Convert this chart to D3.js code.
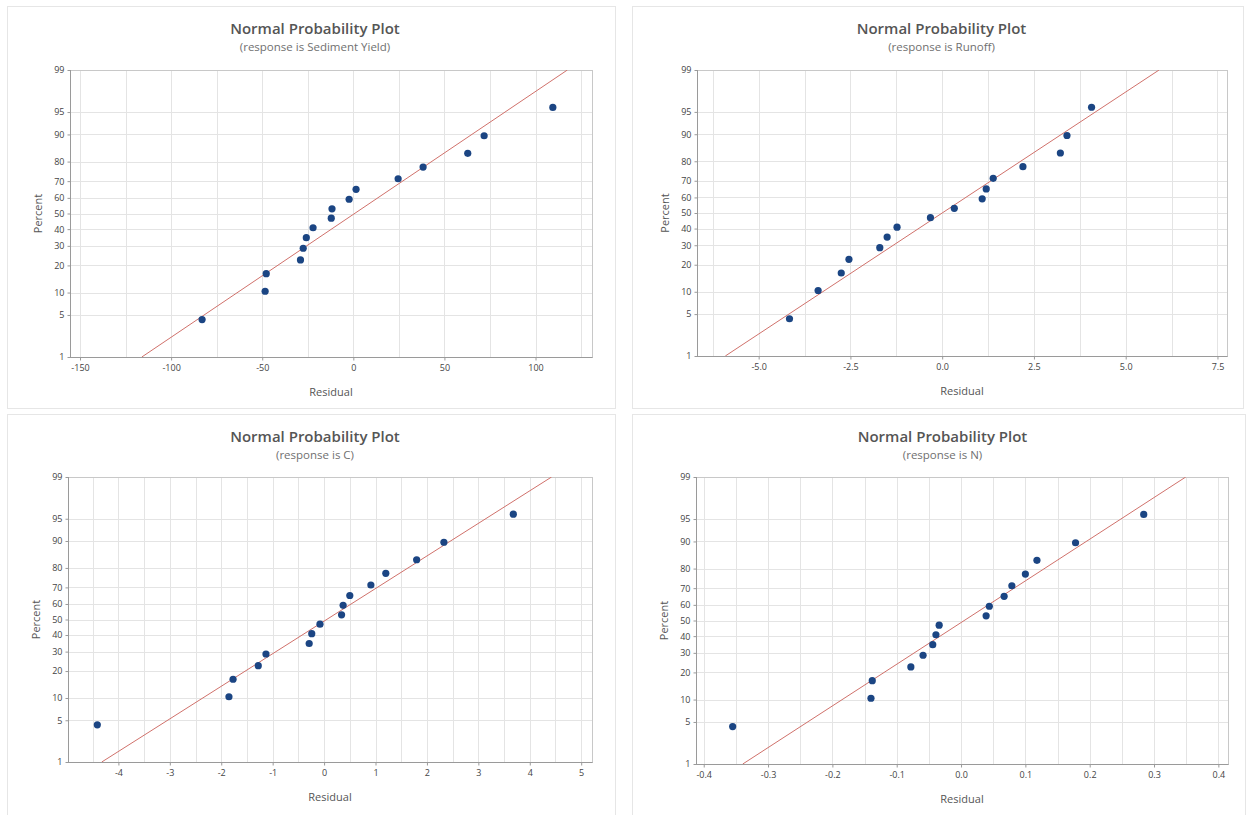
<!DOCTYPE html>
<html>
<head>
<meta charset="utf-8">
<script src="https://cdn.jsdelivr.net/npm/d3@7"></script>
<style>
  body { margin: 0; background: #fff; }
  text { font-family: "Open Sans", "Noto Sans", sans-serif; }
</style>
</head>
<body>
<script>
// --- data ---
const responses = ["Sediment Yield", "Runoff", "C", "N"];
const percentTicks = [1, 5, 10, 20, 30, 40, 50, 60, 70, 80, 90, 95, 99];
// median-rank plotting positions for 16 points, in percent
const percentRanks = [4.27, 10.37, 16.46, 22.56, 28.66, 34.76, 40.85, 46.95,
                      53.05, 59.15, 65.24, 71.34, 77.44, 83.54, 89.63, 95.73];

const sedimentResid = [-83, -48.4, -47.8, -29, -27.5, -25.8, -22.1, -12.1,
                       -11.7, -2.3, 1.5, 24.6, 38.3, 62.8, 71.8, 109.5];
const runoffResid = [-4.16, -3.38, -2.75, -2.54, -1.70, -1.50, -1.23, -0.32,
                     0.33, 1.09, 1.20, 1.39, 2.20, 3.22, 3.40, 4.07];
const cResid = [-4.41, -1.85, -1.77, -1.28, -1.13, -0.29, -0.24, -0.08,
                0.34, 0.37, 0.50, 0.91, 1.20, 1.80, 2.33, 3.68];
const nResid = [-0.355, -0.140, -0.138, -0.078, -0.059, -0.044, -0.039, -0.034,
                0.039, 0.044, 0.067, 0.079, 0.100, 0.118, 0.178, 0.284];

const xTicks = [
  [-150, -100, -50, 0, 50, 100],
  [-5, -2.5, 0, 2.5, 5, 7.5],
  [-4, -3, -2, -1, 0, 1, 2, 3, 4, 5],
  [-0.4, -0.3, -0.2, -0.1, 0, 0.1, 0.2, 0.3, 0.4]
];
const xDomains = [[-155.5, 131], [-6.68, 7.76], [-4.98, 5.21], [-0.412, 0.415]];
const xDecimals = [0, 1, 0, 1];
// fitted normal line: mean and st. dev. of the residuals
const fitMeans = [0.7, 0, 0.05, 0.005];
const fitSds = [50.2, 2.54, 1.88, 0.148];

const residuals = [sedimentResid, runoffResid, cResid, nResid];

// --- layout ---
const W = 1253, H = 815;
const cards = [
  {x: 7, y: 6, w: 608, h: 402},
  {x: 632, y: 6, w: 611, h: 402},
  {x: 7, y: 414, w: 608, h: 405},
  {x: 632, y: 414, w: 613, h: 405}
];
const plots = [
  {l: 70, r: 592, t: 70, b: 357},
  {l: 697, r: 1227, t: 70, b: 356},
  {l: 68, r: 592, t: 477, b: 762},
  {l: 696, r: 1228, t: 477, b: 764}
];

// inverse normal cdf (Acklam)
function probit(p) {
  const a = [-3.969683028665376e+01, 2.209460984245205e+02, -2.759285104469687e+02, 1.383577518672690e+02, -3.066479806614716e+01, 2.506628277459239e+00];
  const b = [-5.447609879822406e+01, 1.615858368580409e+02, -1.556989798598866e+02, 6.680131188771972e+01, -1.328068155288572e+01];
  const c = [-7.784894002430293e-03, -3.223964580411365e-01, -2.400758277161838e+00, -2.549732539343734e+00, 4.374664141464968e+00, 2.938163982698783e+00];
  const d = [7.784695709041462e-03, 3.224671290700398e-01, 2.445134137142996e+00, 3.754408661907416e+00];
  const pl = 0.02425;
  if (p < pl) {
    const q = Math.sqrt(-2 * Math.log(p));
    return (((((c[0]*q+c[1])*q+c[2])*q+c[3])*q+c[4])*q+c[5]) / ((((d[0]*q+d[1])*q+d[2])*q+d[3])*q+1);
  }
  if (p > 1 - pl) {
    const q = Math.sqrt(-2 * Math.log(1 - p));
    return -(((((c[0]*q+c[1])*q+c[2])*q+c[3])*q+c[4])*q+c[5]) / ((((d[0]*q+d[1])*q+d[2])*q+d[3])*q+1);
  }
  const q = p - 0.5, r = q * q;
  return (((((a[0]*r+a[1])*r+a[2])*r+a[3])*r+a[4])*r+a[5])*q / (((((b[0]*r+b[1])*r+b[2])*r+b[3])*r+b[4])*r+1);
}

const locale = d3.formatLocale({decimal: ".", thousands: ",", grouping: [3], currency: ["$", ""], minus: "-"});

let svg = d3.select("body").append("svg")
  .attr("width", W)
  .attr("height", H);

svg.append("rect").attr("width", W).attr("height", H).attr("fill", "#fff");

responses.forEach((resp, k) => {
  let card = cards[k], p = plots[k];
  let g = svg.append("g");

  // card frame
  g.append("rect")
    .attr("x", card.x + 0.5).attr("y", card.y + 0.5)
    .attr("width", card.w).attr("height", card.h)
    .attr("fill", "#fff")
    .attr("stroke", "#e6e6e6");

  let x = d3.scaleLinear().domain(xDomains[k]).range([p.l, p.r]);
  let z = d3.scaleLinear().domain([probit(0.01), probit(0.99)]).range([p.b, p.t]);
  let y = v => z(probit(v / 100));

  // vertical grid, every half tick
  let step = (xTicks[k][1] - xTicks[k][0]) / 2;
  let gridX = d3.range(Math.ceil(xDomains[k][0] / step) * step, xDomains[k][1], step)
    .map(v => Math.round(v / step) * step);
  g.append("g").selectAll("line")
    .data(gridX)
    .join("line")
      .attr("x1", d => Math.round(x(d)) + 0.5).attr("x2", d => Math.round(x(d)) + 0.5)
      .attr("y1", p.t).attr("y2", p.b)
      .attr("stroke", "#e4e4e4");

  // horizontal grid
  g.append("g").selectAll("line")
    .data(percentTicks)
    .join("line")
      .attr("x1", p.l).attr("x2", p.r)
      .attr("y1", d => Math.round(y(d)) + 0.5).attr("y2", d => Math.round(y(d)) + 0.5)
      .attr("stroke", "#e4e4e4");

  // plot frame
  g.append("rect")
    .attr("x", p.l + 0.5).attr("y", p.t + 0.5)
    .attr("width", p.r - p.l).attr("height", p.b - p.t)
    .attr("fill", "none")
    .attr("stroke", "#c8c8c8");
  g.append("line")
    .attr("x1", p.l + 0.5).attr("x2", p.l + 0.5).attr("y1", p.t).attr("y2", p.b + 0.5)
    .attr("stroke", "#9a9a9a");
  g.append("line")
    .attr("x1", p.l).attr("x2", p.r + 0.5).attr("y1", p.b + 0.5).attr("y2", p.b + 0.5)
    .attr("stroke", "#9a9a9a");

  // axes
  let fmt = locale.format("." + xDecimals[k] + "f");
  let xAxis = d3.axisBottom(x).tickValues(xTicks[k]).tickFormat(fmt).tickSize(3).tickPadding(4);
  g.append("g")
    .attr("transform", `translate(0,${p.b + 0.5})`)
    .call(xAxis)
    .call(a => a.select(".domain").remove())
    .call(a => a.selectAll("line").attr("stroke", "#9a9a9a"))
    .call(a => a.selectAll("text").attr("fill", "#444").style("font-size", "9px")
      .style("font-family", '"Open Sans", sans-serif'));

  let yAxis = d3.axisLeft(z).tickValues(percentTicks.map(v => probit(v / 100)))
    .tickFormat((d, i) => percentTicks[i]).tickSize(3).tickPadding(3);
  g.append("g")
    .attr("transform", `translate(${p.l + 0.5},0)`)
    .call(yAxis)
    .call(a => a.select(".domain").remove())
    .call(a => a.selectAll("line").attr("stroke", "#9a9a9a"))
    .call(a => a.selectAll("text").attr("fill", "#444").style("font-size", "9px")
      .style("font-family", '"Open Sans", sans-serif'));

  // fitted line
  let clipId = "clip" + k;
  g.append("clipPath").attr("id", clipId)
    .append("rect").attr("x", p.l).attr("y", p.t).attr("width", p.r - p.l).attr("height", p.b - p.t);
  let zs = z.domain();
  g.append("line")
    .attr("clip-path", `url(#${clipId})`)
    .attr("x1", x(fitMeans[k] + fitSds[k] * zs[0])).attr("y1", z(zs[0]))
    .attr("x2", x(fitMeans[k] + fitSds[k] * zs[1])).attr("y2", z(zs[1]))
    .attr("stroke", "#d0716b")
    .attr("stroke-width", 1);

  // points
  g.append("g").selectAll("circle")
    .data(residuals[k].map((r, i) => ({r: r, pct: percentRanks[i]})))
    .join("circle")
      .attr("cx", d => x(d.r))
      .attr("cy", d => y(d.pct))
      .attr("r", 3.6)
      .attr("fill", "#1b4583");

  // titles
  let cx = card.x + card.w / 2 + 4;
  g.append("text")
    .attr("x", cx).attr("y", card.y + 28)
    .attr("text-anchor", "middle")
    .attr("fill", "#555")
    .style("font-size", "15px")
    .style("font-weight", 600)
    .text("Normal Probability Plot");
  g.append("text")
    .attr("x", cx).attr("y", card.y + 45)
    .attr("text-anchor", "middle")
    .attr("fill", "#707070")
    .style("font-size", "11.5px")
    .text(`(response is ${resp})`);

  g.append("text")
    .attr("x", (p.l + p.r) / 2).attr("y", p.b + 39)
    .attr("text-anchor", "middle")
    .attr("fill", "#555")
    .style("font-size", "11px")
    .text("Residual");
  g.append("text")
    .attr("transform", `translate(${p.l - 28},${(p.t + p.b) / 2}) rotate(-90)`)
    .attr("text-anchor", "middle")
    .attr("fill", "#555")
    .style("font-size", "11px")
    .text("Percent");
});
</script>
</body>
</html>
